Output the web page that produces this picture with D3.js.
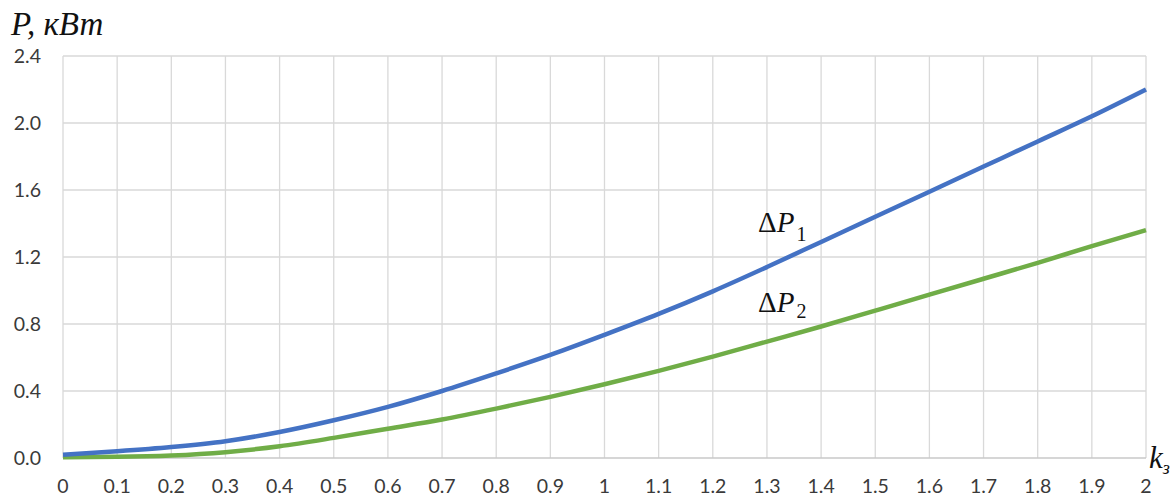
<!DOCTYPE html>
<html lang="ru">
<head>
<meta charset="UTF-8">
<title>P, кВт</title>
<script src="https://d3js.org/d3.v7.min.js"></script>
<style>
    body { margin: 0; padding: 0; background: #fff; overflow: hidden; }
    .tick-label { font-family: Lato, "Open Sans", sans-serif; font-size: 19.5px; fill: #3a3a3a; }
    .serif { font-family: "Liberation Serif", "Times New Roman", serif; fill: #111; }
</style>
</head>
<body>
<script>
    // данные
    const kValues = [0, 0.1, 0.2, 0.3, 0.4, 0.5, 0.6, 0.7, 0.8, 0.9, 1.0,
                     1.1, 1.2, 1.3, 1.4, 1.5, 1.6, 1.7, 1.8, 1.9, 2.0];
    const dP1 = [0.02, 0.04, 0.065, 0.10, 0.155, 0.225, 0.305, 0.40, 0.505, 0.615, 0.735,
                 0.86, 0.995, 1.14, 1.29, 1.44, 1.59, 1.74, 1.89, 2.04, 2.20];
    const dP2 = [0.005, 0.007, 0.015, 0.035, 0.07, 0.12, 0.175, 0.23, 0.295, 0.365, 0.44,
                 0.52, 0.605, 0.695, 0.785, 0.88, 0.975, 1.07, 1.165, 1.265, 1.36];
    const xTicks = kValues;
    const yTicks = [0, 0.4, 0.8, 1.2, 1.6, 2.0, 2.4];

    const width = 1173, height = 499;
    const svg = d3.select("body").append("svg")
        .attr("width", width)
        .attr("height", height);

    const x = d3.scaleLinear().domain([0, 2]).range([63, 1146]);
    const y = d3.scaleLinear().domain([0, 2.4]).range([458, 56]);

    // сетка
    svg.append("g").selectAll("line")
        .data(xTicks)
        .enter().append("line")
        .attr("x1", d => x(d)).attr("x2", d => x(d))
        .attr("y1", y(2.4)).attr("y2", y(0))
        .attr("stroke", "#d9d9d9").attr("stroke-width", 1.3);

    svg.append("g").selectAll("line")
        .data(yTicks)
        .enter().append("line")
        .attr("x1", x(0)).attr("x2", x(2))
        .attr("y1", d => y(d)).attr("y2", d => y(d))
        .attr("stroke", d => d === 0 ? "#c8c8c8" : "#d9d9d9").attr("stroke-width", 1.3);

    // подписи осей
    svg.append("g").selectAll("text")
        .data(yTicks)
        .enter().append("text")
        .attr("class", "tick-label")
        .attr("x", 41)
        .attr("y", d => y(d) + 7)
        .attr("text-anchor", "end")
        .text(d => d.toFixed(1));

    svg.append("g").selectAll("text")
        .data(xTicks)
        .enter().append("text")
        .attr("class", "tick-label")
        .attr("x", d => x(d))
        .attr("y", 493)
        .attr("text-anchor", "middle")
        .text(d => d3.format("")(+d.toFixed(1)));

    // кривые
    const line = d3.line()
        .x((d, i) => x(kValues[i]))
        .y(d => y(d))
        .curve(d3.curveMonotoneX);

    svg.append("path").datum(dP2)
        .attr("fill", "none").attr("stroke", "#70ad47")
        .attr("stroke-width", 4.5).attr("d", line);

    svg.append("path").datum(dP1)
        .attr("fill", "none").attr("stroke", "#4472c4")
        .attr("stroke-width", 4.5).attr("d", line);

    // надписи
    const title = svg.append("text").attr("class", "serif")
        .attr("x", 11).attr("y", 35)
        .attr("font-size", 33).attr("font-style", "italic");
    title.text("P, кВт");

    const kLabel = svg.append("text").attr("class", "serif")
        .attr("x", 1149).attr("y", 468)
        .attr("font-size", 31).attr("font-style", "italic");
    kLabel.append("tspan").text("k");
    kLabel.append("tspan").attr("font-size", 18).attr("dy", 6).text("з");

    function curveLabel(xPos, yPos, sub, subDy) {
        const t = svg.append("text").attr("class", "serif")
            .attr("x", xPos).attr("y", yPos).attr("font-size", 29);
        t.append("tspan").text("Δ");
        t.append("tspan").attr("font-style", "italic").text("P");
        t.append("tspan").attr("font-size", 20).attr("dy", subDy).attr("dx", 2).text(sub);
    }
    curveLabel(758, 232, "1", 9);
    curveLabel(758, 312, "2", 6);
</script>
</body>
</html>
